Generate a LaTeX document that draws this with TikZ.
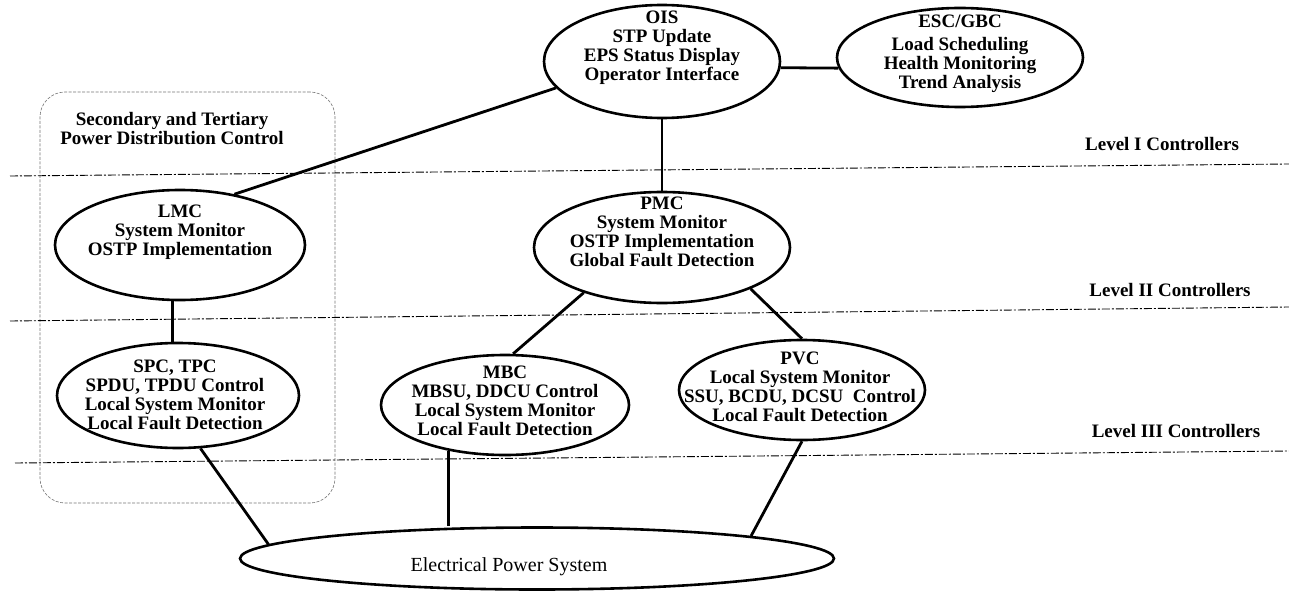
\documentclass[tikz,border=0pt]{standalone}
\usepackage{fontspec}
\setmainfont{Liberation Serif}
\usetikzlibrary{shapes.geometric}
\tikzset{
  ctrl/.style={ellipse, draw, line width=2.6pt, inner sep=0pt},
  ctrltext/.style={align=center, inner sep=0pt, font=\fontsize{19}{19}\selectfont\bfseries},
  link/.style={line width=2.8pt},
  levelline/.style={line width=0.9pt, dash pattern=on 8pt off 2pt on 2pt off 2pt},
  levellabel/.style={inner sep=0pt, font=\fontsize{19}{19}\selectfont\bfseries},
  groupbox/.style={draw=black!55, line width=0.6pt, dash pattern=on 3pt off 1.5pt,
                   rounded corners=25pt, inner sep=0pt}
}

\begin{document}
\begin{tikzpicture}[x=1pt, y=1pt]
  \useasboundingbox (0,0) rectangle (1289,-591);

  % secondary / tertiary group
  \node[groupbox, minimum width=295pt, minimum height=411pt] (sectert) at (187.5,-297.5) {};
  \node[ctrltext] (secttxt) at (172,-129) {Secondary and Tertiary\\Power Distribution Control};

  % level separators
  \coordinate (lonew)   at (10,-176);  \coordinate (lonee)   at (1289,-164);
  \coordinate (ltwow)   at (10,-321);  \coordinate (ltwoe)   at (1289,-307);
  \coordinate (lthreew) at (15,-463);  \coordinate (lthreee) at (1289,-451);
  \draw[levelline] (lonew) -- (lonee);
  \draw[levelline] (ltwow) -- (ltwoe);
  \draw[levelline] (lthreew) -- (lthreee);
  \node[levellabel] (lvlone)   at (1162,-144) {Level I Controllers};
  \node[levellabel] (lvltwo)   at (1170,-290) {Level II Controllers};
  \node[levellabel] (lvlthree) at (1176,-431) {Level III Controllers};

  % level I
  \node[ctrl, minimum width=236pt, minimum height=113pt] (ois) at (662,-61.5) {};
  \node[ctrltext] (oistxt) at (662,-48)
    {OIS\\STP Update\\EPS Status Display\\Operator Interface};

  \node[ctrl, minimum width=246pt, minimum height=99pt] (esc) at (960,-57.5) {};
  \node[ctrltext] (esctxt) at (960,-54)
    {ESC/GBC\\[4pt]Load Scheduling\\Health Monitoring\\Trend Analysis};

  % level II
  \node[ctrl, minimum width=250pt, minimum height=110pt] (lmc) at (180,-245) {};
  \node[ctrltext] (lmctxt) at (180,-232)
    {LMC\\System Monitor\\OSTP Implementation};

  \node[ctrl, minimum width=256pt, minimum height=111pt] (pmc) at (662,-247.5) {};
  \node[ctrltext] (pmctxt) at (662,-232)
    {PMC\\System Monitor\\OSTP Implementation\\Global Fault Detection};

  % level III
  \node[ctrl, minimum width=242pt, minimum height=105pt] (spc) at (178,-395.5) {};
  \node[ctrltext] (spctxt) at (175,-395)
    {SPC, TPC\\SPDU, TPDU Control\\Local System Monitor\\Local Fault Detection};

  \node[ctrl, minimum width=248pt, minimum height=100pt] (mbc) at (505,-405) {};
  \node[ctrltext] (mbctxt) at (505,-401)
    {MBC\\MBSU, DDCU Control\\Local System Monitor\\Local Fault Detection};

  \node[ctrl, minimum width=246pt, minimum height=100pt] (pvc) at (802,-390) {};
  \node[ctrltext] (pvctxt) at (800,-387)
    {PVC\\Local System Monitor\\SSU, BCDU, DCSU~~Control\\Local Fault Detection};

  % plant
  \node[ctrl, minimum width=594pt, minimum height=62pt] (eps) at (537,-558.5) {};
  \node[inner sep=0pt, font=\fontsize{20}{20}\selectfont] (epstxt) at (509,-567)
    {Electrical Power System};

  \draw[link] (ois.-3)   -- (esc.185);
  \draw[link] (ois.194)  -- (lmc.43);
  \draw[link] (ois)      -- (pmc);
  \draw[link] (lmc.262)  -- (lmc.262 |- spc.north);
  \draw[link] (pmc.210)  -- (mbc.81);
  \draw[link] (pmc.335)  -- (pvc.north);
  \draw[link] (spc.293)  -- (eps.177);
  \draw[link] (mbc.219)  -- (mbc.219 |- eps.north);
  \draw[link] (pvc.south) -- (eps.6);

\end{tikzpicture}
\end{document}
